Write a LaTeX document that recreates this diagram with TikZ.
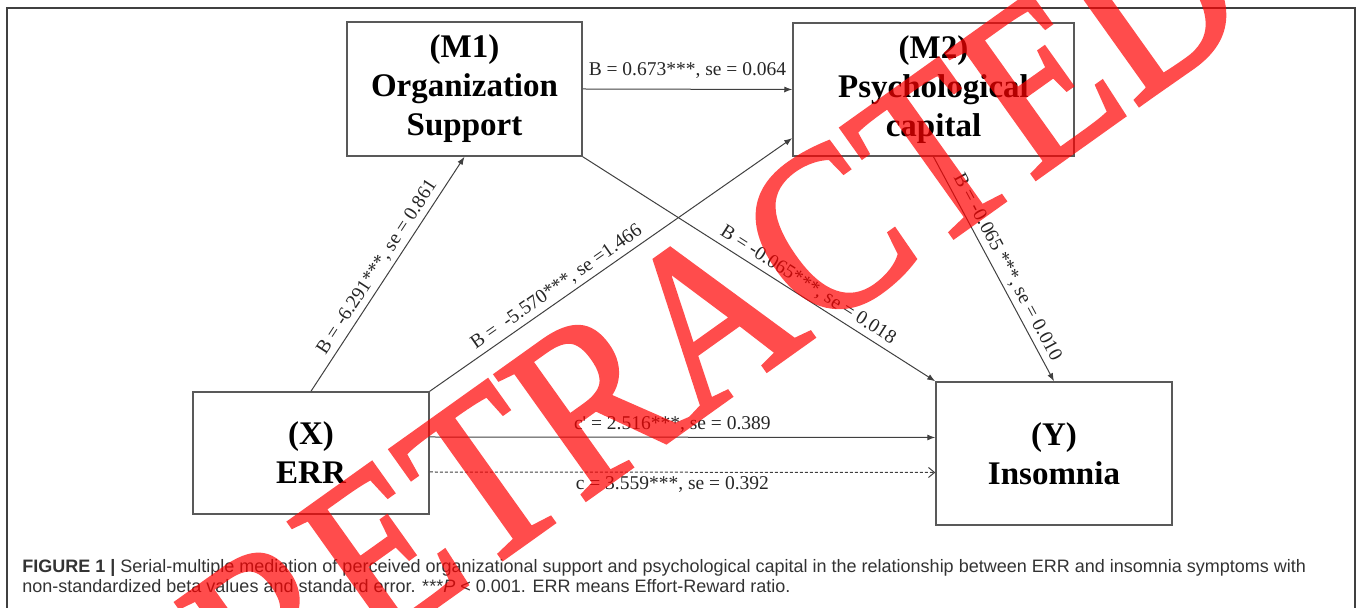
\documentclass[tikz,border=0pt]{standalone}
\usepackage{fontspec}
\setmainfont{Liberation Serif}
\newfontfamily\capfont{Liberation Sans}
\newfontfamily\stampfont[FakeStretch=0.88,FakeBold=1.5]{Liberation Serif}
\usetikzlibrary{arrows.meta}

\tikzset{
  box/.style={draw=black!65,line width=0.75pt,align=center,inner sep=0pt,
    font=\fontsize{16.5}{19.5}\selectfont\bfseries},
  link/.style={draw=black!75,line width=0.5pt,-{Latex[length=4pt,width=3pt]}},
  coef/.style={font=\fontsize{9.75}{11}\selectfont,text=black!85,inner sep=2pt},
  captext/.style={anchor=base west,inner sep=0pt,text=black!80,
    font=\capfont\fontsize{9}{10}\selectfont}
}

\begin{document}
\begin{tikzpicture}[x=0.5pt,y=-0.5pt]
\useasboundingbox (0,0) rectangle (1357,608);
\clip (0,0) rectangle (1357,608);
\draw[black!75,line width=0.75pt] (7,640) -- (7,8) -- (1355,8) -- (1355,640);

\node[box,minimum width=117.5pt,minimum height=67pt] (M1) at (464.5,89) {(M1)\\Organization\\Support};
\node[box,minimum width=140.5pt,minimum height=66.5pt] (M2) at (933.5,89.5) {(M2)\\Psychological\\capital};
\node[box,minimum width=118pt,minimum height=61pt] (X) at (311,453) {(X)\\ERR};
\node[box,minimum width=118pt,minimum height=71.5pt] (Y) at (1054,453.5) {(Y)\\Insomnia};

% paths
\draw[link] (X.north) -- node[coef,sloped,above,pos=0.5]{B = -6.291***, se = 0.861} (M1.south);
\draw[link] (X.north east) -- node[coef,sloped,above,pos=0.37]{B =\ \ -5.570***, se =1.466} (M2.199);
\draw[link] (M1.east) -- node[coef,above=3pt]{B = 0.673***, se = 0.064} (M2.west);
\draw[link] (M1.south east) -- node[coef,sloped,above,pos=0.62]{B = -0.065***, se = 0.018} (Y.north west);
\draw[link] (M2.south) -- node[coef,sloped,above,pos=0.52]{B = -0.065 ***, se = 0.010} (Y.north);
\draw[link] ([yshift=8pt]X.east) -- node[coef,above,pos=0.48]{c\textquotesingle\ = 2.516***, se = 0.389} ([yshift=8pt]Y.west);
\draw[black!75,line width=0.5pt,dash pattern=on 1.5pt off 1pt,-{Straight Barb[length=3pt,width=5pt]}]
  ([yshift=-9.5pt]X.east) -- node[coef,below,pos=0.48]{c = 3.559***, se = 0.392} ([yshift=-9.5pt]Y.west);

\node[captext] (cap1) at (22,573) {\textbf{FIGURE 1 |} Serial-multiple mediation of perceived organizational support and psychological capital in the relationship between ERR and insomnia symptoms with};
\node[captext] (cap2) at (22,593) {non-standardized beta values and standard error. ***\textit{P} < 0.001. ERR means Effort-Reward ratio.};

\begin{scope}[transparency group,opacity=0.7]
\node[rotate=35.5,text=red,font=\stampfont\fontsize{118}{118}\selectfont] (stamp) at (714,314) {RETRACTED};
\end{scope}
\end{tikzpicture}
\end{document}
